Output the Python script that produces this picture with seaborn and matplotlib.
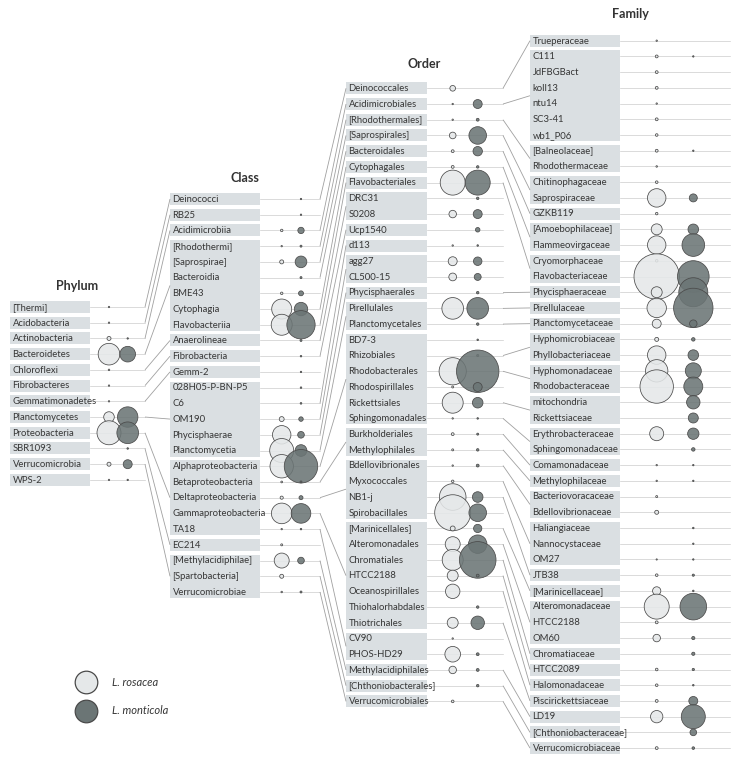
import numpy as np
import pandas as pd
import matplotlib
matplotlib.use("Agg")
import matplotlib.pyplot as plt
from matplotlib.patches import Rectangle
import seaborn as sns

nan = np.nan

# ---------------- data (bubble values ~ relative abundance, area units) ----------------
phylum_names = ["[Thermi]", "Acidobacteria", "Actinobacteria", "Bacteroidetes", "Chloroflexi",
                "Fibrobacteres", "Gemmatimonadetes", "Planctomycetes", "Proteobacteria",
                "SBR1093", "Verrucomicrobia", "WPS-2"]
phylum_rosacea = [0.5, 0.5, 4, 117, 0.6, 0.5, 0.5, 28, 144, nan, 4, 0.5]
phylum_monticola = [nan, nan, 0.5, 61, nan, nan, nan, 104, 117, 0.6, 20, 0.5]

class_names = ["Deinococci", "RB25", "Acidimicrobiia", "[Rhodothermi]", "[Saprospirae]",
               "Bacteroidia", "BME43", "Cytophagia", "Flavobacteriia", "Anaerolineae",
               "Fibrobacteria", "Gemm-2", "028H05-P-BN-P5", "C6", "OM190", "Phycisphaerae",
               "Planctomycetia", "Alphaproteobacteria", "Betaproteobacteria",
               "Deltaproteobacteria", "Gammaproteobacteria", "TA18", "EC214",
               "[Methylacidiphilae]", "[Spartobacteria]", "Verrucomicrobiae"]
class_parent = ["[Thermi]", "Acidobacteria", "Actinobacteria"] + ["Bacteroidetes"] * 6 + \
               ["Chloroflexi", "Fibrobacteres", "Gemmatimonadetes"] + ["Planctomycetes"] * 5 + \
               ["Proteobacteria"] * 5 + ["SBR1093"] + ["Verrucomicrobia"] * 3
class_rosacea = [nan, nan, 1.5, 0.5, 4, nan, 1.5, 100, 110, nan, nan, nan, nan, nan, 6, 85,
                 144, 137, 0.8, 2.5, 106, 0.5, 1, 56, 4, 0.6]
class_monticola = [0.5, 0.5, 10, 1, 34, 1, 6, 45, 200, 1, 0.6, 0.5, 0.6, 0.7, 5, 11,
                   34, 280, 1, 4, 96, 0.6, nan, 11, nan, 1]

order_names = ["Deinococcales", "Acidimicrobiales", "[Rhodothermales]", "[Saprospirales]",
               "Bacteroidales", "Cytophagales", "Flavobacteriales", "DRC31", "S0208", "Ucp1540",
               "d113", "agg27", "CL500-15", "Phycisphaerales", "Pirellulales",
               "Planctomycetales", "BD7-3", "Rhizobiales", "Rhodobacterales", "Rhodospirillales",
               "Rickettsiales", "Sphingomonadales", "Burkholderiales", "Methylophilales",
               "Bdellovibrionales", "Myxococcales", "NB1-j", "Spirobacillales",
               "[Marinicellales]", "Alteromonadales", "Chromatiales", "HTCC2188",
               "Oceanospirillales", "Thiohalorhabdales", "Thiotrichales", "CV90", "PHOS-HD29",
               "Methylacidiphilales", "[Chthoniobacterales]", "Verrucomicrobiales"]
order_parent = ["Deinococci", "Acidimicrobiia", "[Rhodothermi]", "[Saprospirae]", "Bacteroidia",
                "Cytophagia", "Flavobacteriia", "Anaerolineae", "Anaerolineae", "Fibrobacteria",
                "C6", "OM190", "OM190", "Phycisphaerae", "Planctomycetia", "Planctomycetia"] + \
               ["Alphaproteobacteria"] * 6 + ["Betaproteobacteria"] * 2 + \
               ["Deltaproteobacteria"] * 4 + ["Gammaproteobacteria"] * 7 + ["TA18"] * 2 + \
               ["[Methylacidiphilae]", "[Spartobacteria]", "Verrucomicrobiae"]
order_rosacea = [8, 0.5, 0.5, 11, 2, 2, 156, nan, 14, nan, 0.5, 20, 15, nan, 117, nan, nan, nan,
                 185, 1, 110, 0.5, 2, 1, 0.5, 1.5, 177, 324, 6, 56, 110, 30, 52, nan, 30, 0.5,
                 61, 14, nan, 1.7]
order_monticola = [nan, 20, 2, 77, 22, 1.5, 156, 1.5, 20, 5, 0.6, 18, 12, 1.5, 117, 1.5, 0.6,
                   1.2, 450, 20, 28, 0.6, 1, 1.5, 2, nan, 28, 77, 17, 85, 335, 2, nan, 1.5, 45,
                   nan, 2, 2, 1.5, nan]

family_names = ["Trueperaceae", "C111", "JdFBGBact", "koll13", "ntu14", "SC3-41", "wb1_P06",
                "[Balneolaceae]", "Rhodothermaceae", "Chitinophagaceae", "Saprospiraceae",
                "GZKB119", "[Amoebophilaceae]", "Flammeovirgaceae", "Cryomorphaceae",
                "Flavobacteriaceae", "Phycisphaeraceae", "Pirellulaceae", "Planctomycetaceae",
                "Hyphomicrobiaceae", "Phyllobacteriaceae", "Hyphomonadaceae", "Rhodobacteraceae",
                "mitochondria", "Rickettsiaceae", "Erythrobacteraceae", "Sphingomonadaceae",
                "Comamonadaceae", "Methylophilaceae", "Bacteriovoracaceae", "Bdellovibrionaceae",
                "Haliangiaceae", "Nannocystaceae", "OM27", "JTB38", "[Marinicellaceae]",
                "Alteromonadaceae", "HTCC2188", "OM60", "Chromatiaceae", "HTCC2089",
                "Halomonadaceae", "Piscirickettsiaceae", "LD19", "[Chthoniobacteraceae]",
                "Verrucomicrobiaceae"]
family_parent = ["Deinococcales"] + ["Acidimicrobiales"] * 6 + ["[Rhodothermales]"] * 2 + \
                ["[Saprospirales]"] * 2 + ["Bacteroidales"] + ["Cytophagales"] * 2 + \
                ["Flavobacteriales"] * 2 + ["Phycisphaerales", "Pirellulales", "Planctomycetales"] + \
                ["Rhizobiales"] * 2 + ["Rhodobacterales"] * 2 + ["Rickettsiales"] * 2 + \
                ["Sphingomonadales"] * 2 + ["Burkholderiales", "Methylophilales"] + \
                ["Bdellovibrionales"] * 2 + ["Myxococcales"] * 3 + ["NB1-j", "[Marinicellales]"] + \
                ["Alteromonadales"] * 3 + ["Chromatiales", "HTCC2188", "Oceanospirillales",
                "Thiotrichales", "Methylacidiphilales", "[Chthoniobacterales]", "Verrucomicrobiales"]
family_rosacea = [0.5, 2, 2, 2, 0.5, 2, 1.7, 2, 0.6, 1.7, 85, 1.5, 30, 85, 1.7, 515, 30, 94, 20,
                  4, 85, 125, 279, nan, nan, 49, nan, 0.5, 0.5, 1, 4, nan, nan, 0.4, 1.7, 17,
                  156, 2, 14, nan, 1.7, 1.7, 2, 38, nan, 2]
family_monticola = [nan, 0.5, nan, nan, nan, nan, nan, 0.5, nan, nan, 16, nan, 28, 128, nan, 250,
                    210, 388, 14, 3, 28, 64, 90, 45, 25, 32, 3, 0.5, 0.5, nan, nan, 0.6, 0.5,
                    0.5, 1.2, 0.6, 177, nan, 2.5, 2.5, 1.3, 0.6, 20, 144, 11, 1.7]

species = ["L. rosacea", "L. monticola"]

# ---------------- layout / style ----------------
W, H = 749, 765
PITCH = 15.72
BOX_HALF = 6.0
LAYOUT = {
    "Phylum": dict(y0=307.0, box=(10, 90), cols=(109.0, 127.7), guide_end=145, title=(77, 286)),
    "Class": dict(y0=199.0, box=(170, 260), cols=(281.7, 301.0), guide_end=320, title=(245, 178)),
    "Order": dict(y0=88.3, box=(346, 427), cols=(452.7, 477.7), guide_end=503, title=(424, 64)),
    "Family": dict(y0=40.7, box=(530, 620), cols=(656.7, 693.3), guide_end=730, title=(630, 13.5)),
}
BOX_COLOR = "#dadfe2"
TEXT_COLOR = "#363636"
GUIDE_COLOR = "#dadada"
LINK_COLOR = "#a0a0a0"
PALETTE = {"L. rosacea": (0.898, 0.910, 0.914, 0.88), "L. monticola": (0.42, 0.46, 0.46, 0.88)}
EDGE = "#4a4a4a"
S_PER_UNIT = (2 * 0.72) ** 2  # px^2 radius -> pt^2 marker area

sns.set_theme(style="white")
plt.rcParams["font.family"] = ["Lato", "DejaVu Sans"]

fig = plt.figure(figsize=(W / 100, H / 100), dpi=100)
ax = fig.add_axes([0, 0, 1, 1])

levels = [
    ("Phylum", phylum_names, None, phylum_rosacea, phylum_monticola),
    ("Class", class_names, class_parent, class_rosacea, class_monticola),
    ("Order", order_names, order_parent, order_rosacea, order_monticola),
    ("Family", family_names, family_parent, family_rosacea, family_monticola),
]

row_y = {}
for lvl, names, parents, ros, mon in levels:
    L = LAYOUT[lvl]
    row_y[lvl] = {n: L["y0"] + i * PITCH for i, n in enumerate(names)}

rows = []
prev = None
for lvl, names, parents, ros, mon in levels:
    L = LAYOUT[lvl]
    ys = row_y[lvl]
    bx0, bx1 = L["box"]
    keys = names if parents is None else parents
    groups = []
    for i, k in enumerate(keys):
        if groups and groups[-1][0] == k and parents is not None:
            groups[-1][1].append(i)
        else:
            groups.append([k, [i]])
    for k, idx in groups:
        ytop = ys[names[idx[0]]] - BOX_HALF
        ybot = ys[names[idx[-1]]] + BOX_HALF
        ax.add_patch(Rectangle((bx0, ytop), bx1 - bx0, ybot - ytop, facecolor=BOX_COLOR,
                               edgecolor="none", zorder=1))
        if parents is not None:
            py = row_y[prev][k]
            cy = (ytop + ybot) / 2
            ax.plot([LAYOUT[prev]["guide_end"], bx0], [py, cy], color=LINK_COLOR, lw=0.6,
                    zorder=1, solid_capstyle="butt")
    for n in names:
        y = ys[n]
        ax.plot([bx1, L["guide_end"]], [y, y], color=GUIDE_COLOR, lw=0.7, zorder=1)
        ax.text(bx0 + 2.5, y + 0.3, n, fontsize=6.8, color=TEXT_COLOR, va="center", ha="left",
                zorder=2)
    ax.text(L["title"][0], L["title"][1], lvl, fontsize=9, fontweight="bold", color="#333333",
            ha="center", va="center")
    for i, n in enumerate(names):
        for sp, vals, cx in ((species[0], ros, L["cols"][0]), (species[1], mon, L["cols"][1])):
            rows.append(dict(x=cx, y=ys[n], species=sp, value=vals[i]))
    prev = lvl

df = pd.DataFrame(rows).dropna(subset=["value"]).reset_index(drop=True)
vmax = df["value"].max()
sns.scatterplot(data=df, x="x", y="y", hue="species", size="value", palette=PALETTE,
                sizes=(0, S_PER_UNIT * vmax), size_norm=(0, vmax), edgecolor=EDGE,
                linewidth=0.55, legend=False, ax=ax, zorder=3)

# legend
leg_r = 11.3
for sp, ly in zip(species, (682, 711)):
    ax.scatter([86], [ly], s=(2 * leg_r * 0.72) ** 2, facecolor=PALETTE[sp][:3],
               edgecolor=EDGE, linewidth=0.9, zorder=3)
    ax.text(112, ly, sp, fontsize=8, style="italic", color=TEXT_COLOR, va="center", ha="left")

ax.set_xlim(0, W)
ax.set_ylim(H, 0)
ax.axis("off")
fig.savefig("out.png", dpi=100)
